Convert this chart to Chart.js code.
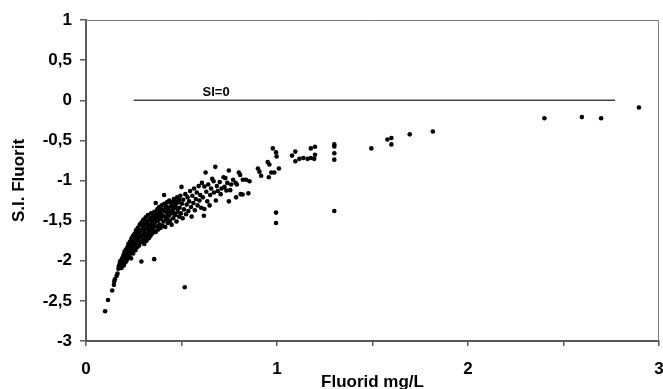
<!DOCTYPE html>
<html>
<head>
<meta charset="utf-8">
<script src="https://cdn.jsdelivr.net/npm/chart.js@4/dist/chart.umd.min.js"></script>
<style>
  html, body { margin: 0; padding: 0; background: #fff; }
  #wrap { width: 663px; height: 389px; }
</style>
</head>
<body>
<div id="wrap"><canvas id="siChart" width="663" height="389"></canvas></div>
<script>
// fluoride concentration (mg/L) vs. saturation index of fluorite
const samples = [
  // low-fluoride tail
  [0.10,-2.63],[0.115,-2.49],[0.137,-2.37],[0.146,-2.30],[0.148,-2.26],[0.151,-2.23],
  [0.160,-2.19],[0.165,-2.16],[0.170,-2.10],[0.172,-2.07],[0.176,-2.04],[0.178,-2.01],
  // dense band
  [0.180,-2.05],[0.182,-2.00],[0.186,-2.09],[0.189,-1.97],[0.192,-2.03],[0.196,-1.93],
  [0.198,-2.06],[0.201,-1.89],[0.203,-1.98],[0.205,-1.95],[0.207,-2.02],[0.209,-1.86],
  [0.212,-1.94],[0.214,-1.99],[0.215,-1.88],[0.217,-1.83],[0.219,-1.90],[0.222,-1.79],
  [0.224,-1.95],[0.226,-1.86],[0.227,-1.81],[0.229,-1.92],[0.231,-1.76],[0.233,-1.84],
  [0.234,-1.90],[0.236,-1.97],[0.238,-1.72],[0.241,-1.88],[0.243,-1.80],[0.244,-1.75],
  [0.246,-1.69],[0.247,-1.91],[0.250,-1.77],[0.251,-1.70],[0.252,-1.84],[0.255,-1.66],
  [0.257,-1.73],[0.258,-1.80],[0.259,-1.87],[0.262,-1.62],[0.264,-1.79],[0.266,-1.70],
  [0.267,-1.65],[0.269,-1.83],[0.271,-1.59],[0.273,-1.75],[0.274,-1.71],[0.276,-1.66],
  [0.278,-1.81],[0.281,-1.55],[0.282,-1.63],[0.283,-1.71],[0.285,-1.62],[0.287,-1.77],
  [0.289,-1.69],[0.290,-2.01],[0.291,-1.52],[0.293,-1.68],[0.295,-1.55],[0.296,-1.58],
  [0.298,-1.74],[0.300,-1.49],[0.302,-1.60],[0.303,-1.64],[0.305,-1.79],[0.307,-1.55],
  [0.309,-1.66],[0.310,-1.70],[0.312,-1.46],[0.315,-1.61],[0.316,-1.51],[0.317,-1.75],
  [0.319,-1.52],[0.322,-1.67],[0.323,-1.57],[0.324,-1.43],[0.327,-1.58],[0.329,-1.72],
  [0.330,-1.64],[0.331,-1.49],[0.334,-1.63],[0.336,-1.55],[0.337,-1.47],[0.338,-1.69],
  [0.341,-1.41],[0.343,-1.59],[0.344,-1.54],[0.345,-1.50],[0.348,-1.66],[0.350,-1.45],
  [0.351,-1.60],[0.352,-1.56],[0.355,-1.62],[0.357,-1.98],[0.358,-1.39],[0.359,-1.44],
  [0.360,-1.52],[0.363,-1.47],[0.365,-1.28],[0.366,-1.64],[0.367,-1.51],[0.368,-1.42],
  [0.371,-1.57],[0.373,-1.36],[0.374,-1.44],[0.376,-1.50],[0.378,-1.61],[0.380,-1.39],
  [0.381,-1.45],[0.383,-1.33],[0.386,-1.55],[0.387,-1.48],[0.388,-1.40],[0.391,-1.59],
  [0.393,-1.48],[0.394,-1.36],[0.396,-1.31],[0.398,-1.43],[0.401,-1.56],[0.402,-1.44],
  [0.403,-1.37],[0.406,-1.51],[0.409,-1.18],[0.410,-1.29],[0.411,-1.38],[0.412,-1.45],
  [0.415,-1.58],[0.417,-1.34],[0.419,-1.32],[0.420,-1.48],[0.423,-1.40],[0.425,-1.27],
  [0.427,-1.45],[0.428,-1.53],[0.431,-1.36],[0.434,-1.44],[0.435,-1.38],[0.436,-1.25],
  [0.439,-1.50],[0.442,-1.32],[0.443,-1.27],[0.445,-1.41],[0.448,-1.55],[0.450,-1.28],
  [0.452,-1.33],[0.454,-1.38],[0.457,-1.47],[0.460,-1.23],[0.460,-1.41],[0.463,-1.34],
  [0.467,-1.43],[0.469,-1.26],[0.470,-1.30],[0.474,-1.51],[0.477,-1.21],[0.478,-1.35],
  [0.480,-1.39],[0.484,-1.27],[0.487,-1.45],[0.488,-1.24],[0.490,-1.34],[0.494,-1.19],
  [0.497,-1.41],[0.500,-1.08],[0.502,-1.29],[0.506,-1.47],[0.509,-1.24],[0.513,-1.36],
  [0.517,-2.33],[0.520,-1.17],[0.524,-1.42],[0.527,-1.30],[0.532,-1.21],[0.536,-1.38],
  [0.540,-1.26],[0.545,-1.13],[0.550,-1.33],[0.553,-1.45],[0.557,-1.19],[0.562,-1.28],
  [0.566,-1.10],[0.570,-1.37],[0.575,-1.23],[0.580,-1.15],[0.584,-1.31],[0.590,-1.07],
  [0.594,-1.25],[0.598,-1.18],[0.603,-1.34],[0.607,-1.03],[0.612,-1.21],[0.617,-1.44],
  // upper branch, thinning out
  [0.620,-1.075],[0.620,-1.355],[0.626,-0.90],[0.630,-1.14],[0.635,-1.26],[0.640,-1.05],
  [0.647,-1.31],[0.650,-1.18],[0.655,-1.10],[0.661,-0.98],[0.668,-1.01],[0.670,-1.15],
  [0.677,-0.83],[0.680,-1.25],[0.685,-1.07],[0.690,-1.13],[0.700,-1.02],[0.705,-1.17],
  [0.710,-1.10],[0.720,-0.96],[0.725,-1.08],[0.730,-0.97],[0.735,-1.125],[0.740,-1.03],
  [0.748,-0.875],[0.748,-1.26],[0.755,-1.12],[0.760,-1.05],[0.770,-0.99],[0.783,-1.03],
  [0.786,-1.21],[0.790,-1.05],[0.800,-0.90],[0.807,-0.93],[0.810,-1.17],[0.821,-0.99],
  [0.820,-1.175],[0.838,-0.99],[0.850,-1.16],[0.856,-1.01],[0.900,-0.85],[0.908,-0.89],
  [0.917,-0.94],[0.951,-0.77],[0.957,-0.96],[0.960,-0.80],[0.970,-0.90],[0.978,-0.60],
  [0.986,-0.90],[0.995,-0.65],[0.998,-0.70],[0.995,-1.40],[0.995,-1.53],[1.010,-0.85],
  [1.079,-0.69],[1.096,-0.64],[1.096,-0.76],[1.117,-0.73],[1.138,-0.72],[1.160,-0.73],
  [1.177,-0.72],[1.195,-0.73],[1.177,-0.60],[1.199,-0.58],[1.199,-0.68],
  [1.30,-0.55],[1.30,-0.575],[1.30,-0.66],[1.30,-0.74],[1.30,-1.38],
  [1.494,-0.60],[1.578,-0.49],[1.599,-0.47],[1.599,-0.55],[1.695,-0.425],[1.816,-0.39],
  [2.40,-0.225],[2.596,-0.21],[2.697,-0.225],[2.895,-0.09]
];

// saturation line SI = 0
const siZeroX = [0.25, 2.77];
const siZeroY = [0, 0];

const xTickValues = [0, 0.5, 1, 1.5, 2, 2.5, 3];
const yTickValues = [-3, -2.5, -2, -1.5, -1, -0.5, 0, 0.5, 1];

const FONT = 'Arial, "Liberation Sans", Helvetica, sans-serif';
const AXIS_GREY = '#5a5a5a';

// thin frame along the top and right of the plot + the SI=0 caption
const framePlugin = {
  id: 'frame',
  afterDraw(chart) {
    const { ctx, chartArea: a, scales } = chart;
    ctx.save();
    ctx.strokeStyle = '#7a7a7a';
    ctx.lineWidth = 1;
    ctx.beginPath();
    ctx.moveTo(a.left, a.top + 0.5);
    ctx.lineTo(a.right - 0.5, a.top + 0.5);
    ctx.lineTo(a.right - 0.5, a.bottom);
    ctx.stroke();

    ctx.fillStyle = '#000';
    ctx.font = 'bold 13px ' + FONT;
    ctx.textBaseline = 'alphabetic';
    ctx.fillText('SI=0', scales.x.getPixelForValue(0.61), scales.y.getPixelForValue(siZeroY[0]) - 4);
    ctx.restore();
  }
};

new Chart(document.getElementById('siChart'), {
  data: {
    datasets: [
      {
        type: 'line',
        data: siZeroX.map((x, i) => ({ x, y: siZeroY[i] })),
        borderColor: '#444',
        borderWidth: 1.5,
        pointRadius: 0
      },
      {
        type: 'scatter',
        data: samples.map(([x, y]) => ({ x, y })),
        backgroundColor: '#000',
        borderWidth: 0,
        pointRadius: 2.3
      }
    ]
  },
  options: {
    responsive: false,
    animation: false,
    layout: { padding: { top: 20, right: 2, left: 0, bottom: 0 } },
    plugins: { legend: { display: false }, tooltip: { enabled: false } },
    scales: {
      x: {
        type: 'linear',
        min: 0,
        max: 3,
        afterBuildTicks: s => { s.ticks = xTickValues.map(value => ({ value })); },
        afterFit: s => { s.height = 48; s.paddingLeft = 0; s.paddingRight = 0; },
        grid: { drawOnChartArea: false, drawTicks: true, tickLength: 5, color: AXIS_GREY, lineWidth: 1.5 },
        border: { color: AXIS_GREY, width: 2 },
        ticks: {
          color: '#000',
          padding: 13,
          maxRotation: 0,
          font: { family: FONT, size: 17, weight: 'bold' },
          callback: v => Number.isInteger(v) ? String(v) : ''
        },
        title: {
          display: true,
          text: 'Fluorid mg/L',
          color: '#000',
          padding: 0,
          font: { family: FONT, size: 17, weight: 'bold', lineHeight: 0.8 }
        }
      },
      y: {
        type: 'linear',
        min: -3,
        max: 1,
        afterBuildTicks: s => { s.ticks = yTickValues.map(value => ({ value })); },
        afterFit: s => { s.width = 86; s.paddingTop = 0; s.paddingBottom = 0; },
        grid: { drawOnChartArea: false, drawTicks: true, tickLength: 6, color: AXIS_GREY, lineWidth: 1.5 },
        border: { color: AXIS_GREY, width: 2 },
        ticks: {
          color: '#000',
          padding: 8,
          font: { family: FONT, size: 17, weight: 'bold' },
          callback: v => String(v).replace('.', ',')
        },
        title: {
          display: true,
          text: 'S.I. Fluorit',
          color: '#000',
          padding: { top: 9, bottom: 0 },
          font: { family: FONT, size: 17, weight: 'bold' }
        }
      }
    }
  },
  plugins: [framePlugin]
});
</script>
</body>
</html>
